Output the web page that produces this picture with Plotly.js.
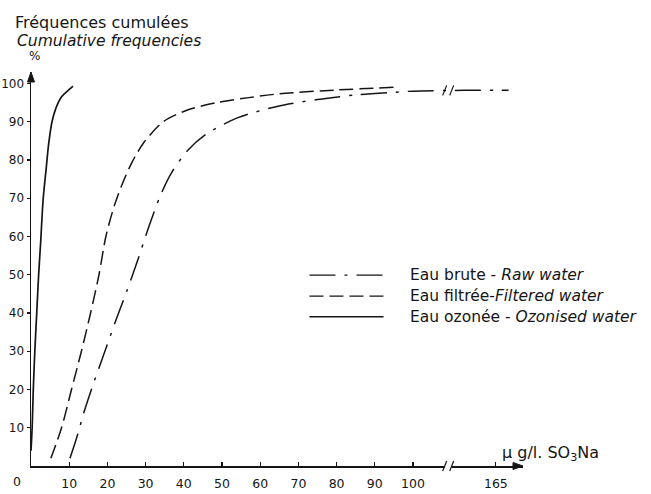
<!DOCTYPE html>
<html>
<head>
<meta charset="utf-8">
<script src="https://cdn.plot.ly/plotly-3.0.1.min.js"></script>
<style>html,body{margin:0;padding:0;background:#fff}#chart{width:651px;height:494px}</style>
</head>
<body>
<div id="chart"></div>
<script>
// ---- data (x in µg/l SO3Na, y in cumulative %) ----
const rawX = [10.2, 12, 14, 16.5, 19, 22, 25, 28, 31, 34, 37, 41, 45.5, 54, 64.4, 75, 85, 95, 100, 140, 165, 175];
const rawY = [2, 7.5, 14.5, 22, 29, 37.5, 45.5, 54, 63, 71, 77, 82.5, 86.5, 91, 94, 95.8, 97, 97.7, 98, 98.2, 98.2, 98.2];

const filtX = [5.2, 8, 10.6, 13.2, 15.6, 17.8, 19.6, 21.8, 24, 26.5, 29.5, 34.6, 40.8, 48.7, 57, 65, 80, 95];
const filtY = [2, 10, 20, 30, 40, 50, 60, 68, 74, 79.5, 84.5, 90, 93, 95, 96.3, 97.3, 98.3, 99];

const ozoX = [0, 0.3, 0.6, 1.0, 1.5, 2.0, 2.5, 3.2, 4.0, 4.6, 5.5, 6.5, 8, 9.5, 11];
const ozoY = [4, 10, 20, 30, 40, 50, 58, 70, 78, 84, 90, 93.5, 96.5, 98, 99.3];

const xTickVals = [10, 20, 30, 40, 50, 60, 70, 80, 90, 100, 165];
const xTickText = ["10", "20", "30", "40", "50", "60", "70", "80", "90", "100", "165"];
const yTickVals = [10, 20, 30, 40, 50, 60, 70, 80, 90, 100];

const seriesNames = [
  "Eau brute - <i>Raw water</i>",
  "Eau filtrée-<i>Filtered water</i>",
  "Eau ozonée - <i>Ozonised water</i>"
];
const titleLine1 = "Fréquences cumulées";
const titleLine2 = "<i>Cumulative frequencies</i>";
const xUnitLabel = "μ g/l. SO<sub>3</sub>Na";
const BREAK_AT = 128;   // axis value where the break is drawn

// ---- broken axis mapping (100 -> 100, 165 -> 121.7) ----
function toAxis(v) { return v <= 100 ? v : 100 + (v - 100) * (21.7 / 65); }

const INK = "#151515";
const FONT = "DejaVu Sans";
const DASH_RAW = "26px,9px,3px,9px";
const DASH_FILT = "14px,6px";
const XMAX = 128.8, YMAX = 103;
const PW = 492, PH = 394;          // plot size in px
const px = d => d / PW, py = d => d / PH;

const traces = [
  {x: rawX.map(toAxis), y: rawY, mode: "lines", line: {color: INK, width: 1.5, dash: DASH_RAW, shape: "spline", smoothing: 0.8}, hoverinfo: "skip"},
  {x: filtX.map(toAxis), y: filtY, mode: "lines", line: {color: INK, width: 1.5, dash: DASH_FILT, shape: "spline", smoothing: 0.8}, hoverinfo: "skip"},
  {x: ozoX.map(toAxis), y: ozoY, mode: "lines", line: {color: INK, width: 1.7, shape: "spline", smoothing: 0.8}, hoverinfo: "skip"}
];

const bxp = toAxis(BREAK_AT) / XMAX;  // break position in paper units
const legendRowsY = [49.9, 44.4, 39.0];
const legendDash = [DASH_RAW, DASH_FILT, "solid"];

const shapes = [];
// gap in x axis at the break
shapes.push({type: "rect", xref: "paper", yref: "paper", x0: bxp - px(4), x1: bxp + px(3), y0: -py(2), y1: py(2), fillcolor: "#fff", line: {width: 0}, layer: "above"});
// break slashes on x axis and on the raw curve
const rawBreakY = 98.2 / YMAX;
[-4, 3].forEach(d => {
  shapes.push({type: "line", xref: "paper", yref: "paper", x0: bxp + px(d - 2), x1: bxp + px(d + 2), y0: -py(5), y1: py(5), line: {color: INK, width: 1.2}, layer: "above"});
  shapes.push({type: "line", xref: "paper", yref: "paper", x0: bxp + px(d - 2), x1: bxp + px(d + 2), y0: rawBreakY - py(5), y1: rawBreakY + py(5), line: {color: INK, width: 1.2}, layer: "above"});
});
// arrow heads
shapes.push({type: "path", xref: "paper", yref: "paper", path: "M 1,0 L " + (1 - px(10)) + "," + py(3.5) + " L " + (1 - px(10)) + "," + (-py(3.5)) + " Z", fillcolor: INK, line: {color: INK, width: 1}, layer: "above"});
shapes.push({type: "path", xref: "paper", yref: "paper", path: "M 0,1 L " + (-px(3.5)) + "," + (1 - py(10)) + " L " + px(3.5) + "," + (1 - py(10)) + " Z", fillcolor: INK, line: {color: INK, width: 1}, layer: "above"});
// legend samples
legendRowsY.forEach((yy, i) => shapes.push({type: "line", xref: "x", yref: "y", x0: 72.9, x1: 92.3, y0: yy, y1: yy, line: {color: INK, width: 1.4, dash: legendDash[i]}}));

const annotations = [];
legendRowsY.forEach((yy, i) => annotations.push({xref: "x", yref: "y", x: 98.6, y: yy, text: seriesNames[i], showarrow: false, xanchor: "left", yanchor: "middle", font: {family: FONT, size: 15.5, color: INK}}));
annotations.push({xref: "paper", yref: "paper", x: px(-16), y: py(466 - 41), text: titleLine2, showarrow: false, xanchor: "left", yanchor: "middle", font: {family: FONT, size: 15.5, color: INK}});
annotations.push({xref: "paper", yref: "paper", x: px(3), y: py(466 - 56), text: "%", showarrow: false, xanchor: "center", yanchor: "middle", font: {family: FONT, size: 12, color: INK}});
annotations.push({xref: "paper", yref: "paper", x: px(469), y: py(13), text: xUnitLabel, showarrow: false, xanchor: "left", yanchor: "middle", font: {family: FONT, size: 16, color: INK}});
annotations.push({xref: "paper", yref: "paper", x: px(-14), y: py(-16), text: "0", showarrow: false, xanchor: "center", yanchor: "middle", font: {family: FONT, size: 12.5, color: INK}});

const layout = {
  width: 651, height: 494,
  margin: {l: 31, r: 128, t: 72, b: 28},
  paper_bgcolor: "#fff", plot_bgcolor: "#fff",
  showlegend: false,
  font: {family: FONT, color: INK},
  title: {text: titleLine1, x: 15 / 651, xanchor: "left", xref: "container", y: 1 - 22 / 494, yanchor: "middle", yref: "container", font: {family: FONT, size: 16, color: INK}},
  xaxis: {range: [0, XMAX], showgrid: false, zeroline: false, showline: true, linecolor: INK, linewidth: 1.5,
          tickmode: "array", tickvals: xTickVals.map(toAxis), ticktext: xTickText, ticks: "inside", ticklen: 4, tickwidth: 1.2, tickcolor: INK,
          ticklabelstandoff: 5, tickfont: {family: FONT, size: 12.5, color: INK}},
  yaxis: {range: [0, YMAX], showgrid: false, zeroline: false, showline: true, linecolor: INK, linewidth: 1.5,
          tickmode: "array", tickvals: yTickVals, ticks: "outside", ticklen: 3, tickwidth: 1.2, tickcolor: INK,
          tickfont: {family: FONT, size: 12, color: INK}},
  shapes: shapes,
  annotations: annotations
};

Plotly.newPlot("chart", traces, layout, {displayModeBar: false, staticPlot: true});
</script>
</body>
</html>
